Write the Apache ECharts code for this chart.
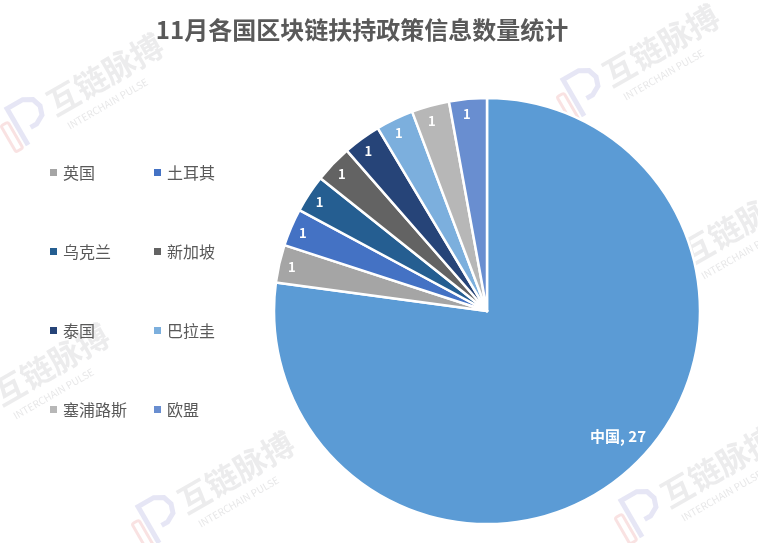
<!DOCTYPE html>
<html><head><meta charset="utf-8">
<style>html,body{margin:0;padding:0;background:#fff}#c{width:758px;height:543px}</style>
<script src="https://cdn.jsdelivr.net/npm/echarts@6/dist/echarts.min.js"></script>
</head><body><div id="c"></div>
<script>
const categories = ['中国','英国','土耳其','乌克兰','新加坡','泰国','巴拉圭','塞浦路斯','欧盟'];
const values = [27,1,1,1,1,1,1,1,1];
const colors = ['#5B9BD5','#A5A5A5','#4472C4','#255E91','#636363','#264478','#7CAFDD','#B7B7B7','#698ED0'];
const legendLeft = ['英国','乌克兰','泰国','塞浦路斯'];
const legendRight = ['土耳其','新加坡','巴拉圭','欧盟'];
const titleText = '11月各国区块链扶持政策信息数量统计';
// watermark anchors: logo centre
const marks = [[24,122],[580,93],[658,272],[-30,412],[155,520],[638,514]];
const font = '"Noto Sans CJK SC","Microsoft YaHei",sans-serif';

const total = values.reduce((a,b)=>a+b,0);
function midAngle(i){
  let s=0; for(let k=0;k<i;k++) s+=values[k];
  return (s+values[i]/2)/total*2*Math.PI;
}
function watermark([x,y]){
  return {type:'group',x,y,rotation:Math.PI/180*30,silent:true,z:100,children:[
    {type:'rect',shape:{x:-22,y:-8,width:8,height:30,r:2},style:{fill:'none',stroke:'rgba(235,150,150,0.28)',lineWidth:3}},
    {type:'polyline',shape:{points:[[-8,22],[-8,-20],[10,-20],[19,-15],[22,-6],[19,3],[10,8],[3,8]]},style:{fill:'none',stroke:'rgba(150,150,215,0.24)',lineWidth:5}},
    {type:'text',x:30,y:-17,style:{text:'互链脉搏',font:'bold 32px '+font,fill:'rgba(120,120,130,0.14)'}},
    {type:'text',x:36,y:21,style:{text:'INTERCHAIN PULSE',font:'10px '+font,fill:'rgba(120,120,130,0.18)'}}
  ]};
}
function legend(left,data){
  return {orient:'vertical',left,top:157,data,icon:'rect',itemWidth:9,itemHeight:9,itemGap:58,
    textStyle:{fontFamily:font,fontSize:16,color:'#595959',padding:[0,0,0,0],lineHeight:21},selectedMode:false};
}
const chart = echarts.init(document.getElementById('c'),null,{renderer:'canvas'});
chart.setOption({
  animation:false,backgroundColor:'#fff',color:colors,
  title:{text:titleText,left:357,top:13,textAlign:'center',
    textStyle:{fontFamily:font,fontSize:24,fontWeight:'bold',color:'#595959'}},
  legend:[legend(43,legendLeft),legend(147,legendRight)],
  series:[{type:'pie',center:[487,311],radius:[0,213],startAngle:90,clockwise:true,
    data:categories.map((name,i)=>({name,value:values[i],
      label:i===0?{fontSize:15}:undefined})),
    itemStyle:{borderColor:'#fff',borderWidth:2.5},
    label:{position:'inside',color:'#fff',fontWeight:'bold',fontFamily:font,fontSize:13,
      formatter:p=>p.dataIndex===0?p.name+', '+p.value:String(p.value)},
    labelLine:{show:false},
    labelLayout:p=>{
      if(p.dataIndex===0) return {dx:59,dy:43};
      const a=midAngle(p.dataIndex);
      return {dx:Math.sin(a)*88-2.5,dy:-Math.cos(a)*88};
    }
  }],
  graphic:{elements:marks.map(watermark)}
});
</script></body></html>
